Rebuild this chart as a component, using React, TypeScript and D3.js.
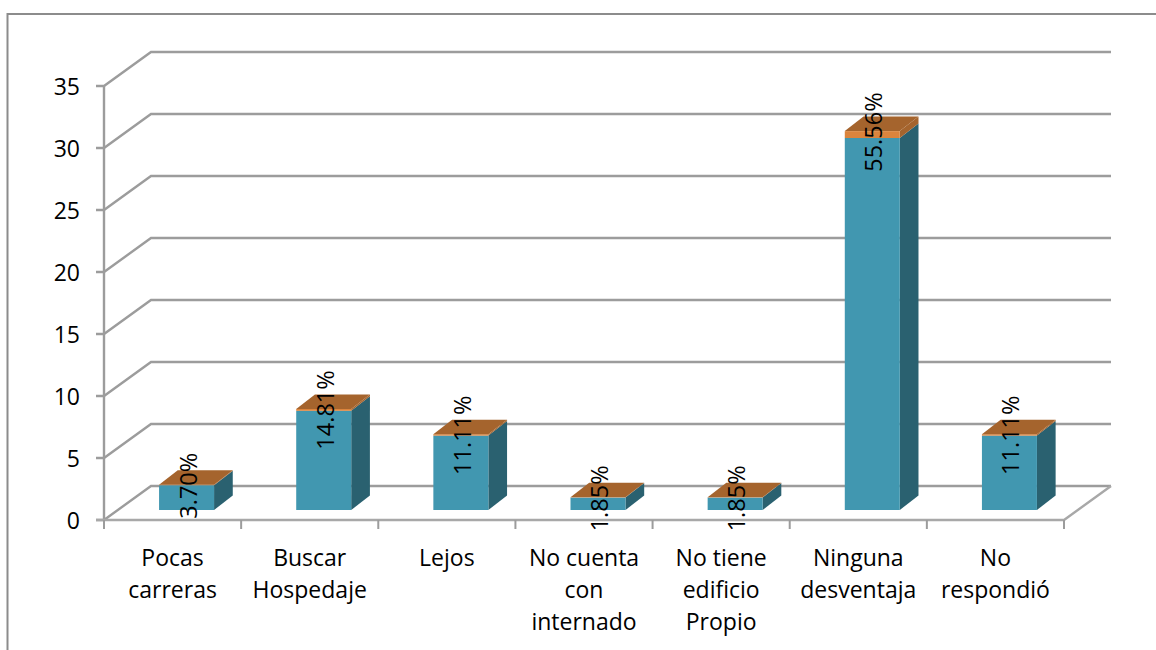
import React from "react";
import * as d3 from "d3";

const categories = [
  ["Pocas", "carreras"],
  ["Buscar", "Hospedaje"],
  ["Lejos"],
  ["No cuenta", "con", "internado"],
  ["No tiene", "edificio", "Propio"],
  ["Ninguna", "desventaja"],
  ["No", "respondió"],
];
const counts = [2, 8, 6, 1, 1, 30, 6];
const shares = [0.037, 0.1481, 0.1111, 0.0185, 0.0185, 0.5556, 0.1111];
const shareLabels = ["3.70%", "14.81%", "11.11%", "1.85%", "1.85%", "55.56%", "11.11%"];
const yTicks = [0, 5, 10, 15, 20, 25, 30, 35];

const W = 1156, H = 650;
const FONT = "'Open Sans', 'Noto Sans', sans-serif";
const GRID = "#9c9c9c";
const FRONT = "#4197b0", SIDE = "#2a6170", TOP = "#a5642d", ORANGE = "#db843d", ORANGE_SIDE = "#a5642d";

const left = 104, right = 1064, floor = 520, top35 = 86;
const backDx = 47, backDy = -34;
const barW = 55, barDx = 18.7, barDy = -14.5, barLift = -10, barShift = 14;

const x = d3.scaleBand<number>().domain(d3.range(categories.length)).range([left, right]);
const y = d3.scaleLinear().domain([0, 35]).range([floor, top35]);
const poly = d3.line<[number, number]>();

export default function App() {
  const bars = counts.map((c, i) => {
    const cx = x(i)! + x.bandwidth() / 2 + barShift;
    const x0 = cx - barW / 2, x1 = cx + barW / 2;
    const yb = y(0) + barLift;
    const ym = y(c) + barLift;
    const yt = y(c + shares[i]) + barLift;
    return { cx, x0, x1, yb, ym, yt };
  });
  return (
    <svg width={W} height={H} viewBox={`0 0 ${W} ${H}`} style={{ position: "absolute", left: 0, top: 0, background: "#fff" }} fontFamily={FONT}>
      <path d={`M7.5,${H}V14H${W}`} fill="none" stroke="#8c8c8c" strokeWidth={2} />

      {yTicks.map((t) => (
        <path key={t} fill="none" stroke={GRID} strokeWidth={2.4}
          d={poly([[left - 8, y(t)], [left, y(t)], [left + backDx, y(t) + backDy], [right + backDx, y(t) + backDy]])!} />
      ))}
      <path d={poly([[left, y(35)], [left, floor]])!} fill="none" stroke={GRID} strokeWidth={2.4} />
      <path d={poly([[left - 8, floor], [right, floor], [right + backDx, floor + backDy]])!} fill="none" stroke="#a8a8a8" strokeWidth={2.4} />
      {d3.range(categories.length + 1).map((i) => {
        const tx = left + i * x.bandwidth();
        return <line key={i} x1={tx} x2={tx} y1={floor} y2={floor + 9} stroke={GRID} strokeWidth={2} />;
      })}

      {yTicks.map((t) => (
        <text key={t} x={80} y={y(t) + 9} textAnchor="end" fontSize={23} fill="#000">{t}</text>
      ))}

      {bars.map((b, i) => (
        <g key={i}>
          <path d={poly([[b.x1, b.yb], [b.x1 + barDx, b.yb + barDy], [b.x1 + barDx, b.ym + barDy], [b.x1, b.ym]])! + "Z"} fill={SIDE} />
          <path d={poly([[b.x1, b.ym], [b.x1 + barDx, b.ym + barDy], [b.x1 + barDx, b.yt + barDy], [b.x1, b.yt]])! + "Z"} fill={ORANGE_SIDE} />
          <rect x={b.x0} y={b.ym} width={barW} height={b.yb - b.ym} fill={FRONT} />
          <rect x={b.x0} y={b.yt} width={barW} height={b.ym - b.yt} fill={ORANGE} />
          <path d={poly([[b.x0, b.yt], [b.x1, b.yt], [b.x1 + barDx, b.yt + barDy], [b.x0 + barDx, b.yt + barDy]])! + "Z"} fill={TOP} />
        </g>
      ))}

      {bars.map((b, i) => (
        <text key={i} transform={`translate(${b.cx + 10},${b.yt + 1})rotate(-90)`} textAnchor="middle" fontSize={23.5} fill="#000">{shareLabels[i]}</text>
      ))}

      {categories.map((lines, i) => (
        <text key={i} textAnchor="middle" fontSize={23} fill="#000">
          {lines.map((l, j) => (
            <tspan key={j} x={x(i)! + x.bandwidth() / 2} y={566 + j * 32}>{l}</tspan>
          ))}
        </text>
      ))}
    </svg>
  );
}
